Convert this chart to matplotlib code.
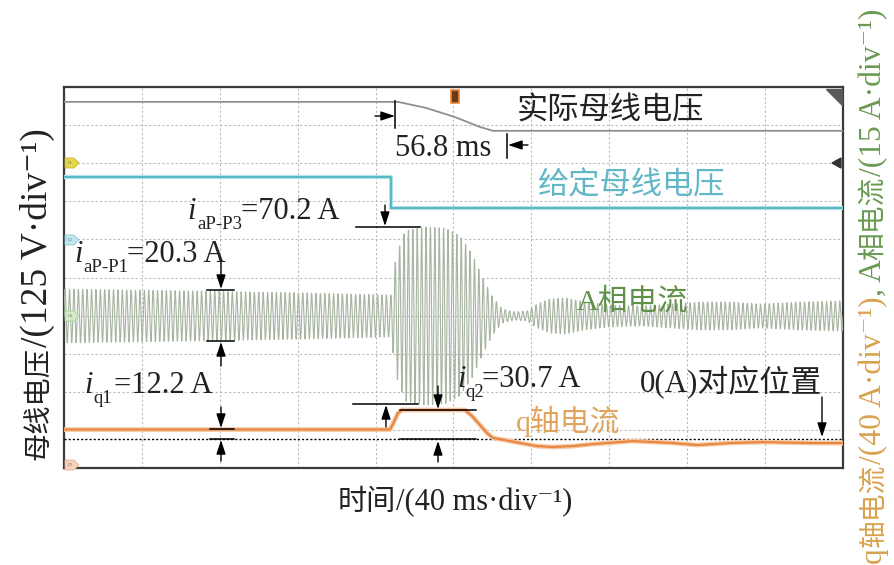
import numpy as np
import matplotlib
matplotlib.use("Agg")
import matplotlib.pyplot as plt
from matplotlib.patches import Polygon, Rectangle

LATIN = ['Liberation Serif', 'DejaVu Serif', 'Noto Sans CJK SC']
CJK = ['Noto Sans CJK SC', 'Liberation Serif', 'DejaVu Serif']
plt.rcParams['font.family'] = LATIN

W, H = 894, 565

# ---------------- data (time in ms, 40 ms/div; vertical in divisions) ----------------
t_span = 400.0                      # 10 div x 40 ms
n_div_y = 10

# actual bus voltage (gray trace), screen divisions
vbus_t = [0, 171.5, 186.0, 200.8, 213.6, 220.3, 400]
vbus_div = [9.61, 9.61, 9.45, 9.21, 8.95, 8.85, 8.85]

# given bus voltage (cyan trace), screen divisions
vref_t = [0, 167.9, 167.9, 400]
vref_div = [7.64, 7.64, 6.82, 6.82]

# A-phase current: envelope amplitude (A), 15 A/div, centred at 4.0 div
ia_scale = 15.0
ia_center_div = 3.99
ia_env_t = [0, 69.8, 121.2, 164.8, 167.9, 170.5, 175.1, 185.4, 195.6, 203.3, 209.5,
            214.6, 219.8, 224.9, 231.6, 237.8, 242.9, 249.6, 257.3, 267.5, 280.4,
            295.8, 311.2, 326.6, 342.0, 357.4, 377.9, 400]
ia_env_A = [10.6, 9.8, 9.1, 8.3, 8.3, 23.6, 33.5, 35.0, 34.6, 31.5, 24.4,
            15.7, 7.9, 2.8, 1.6, 2.0, 4.7, 6.7, 7.1, 5.5, 4.3,
            3.9, 4.7, 5.5, 5.5, 4.7, 5.5, 5.9]
ia_period_ms = 2.26

# q-axis current (A), 40 A/div, zero level at 0.76 div
iq_scale = 40.0
iq_zero_div = 0.76
iq_t = [0, 167.4, 168.9, 171.5, 173.6, 205.9, 209.5, 213.6, 217.2, 220.3, 226.4,
        234.2, 242.9, 251.1, 261.4, 271.6, 292.2, 312.7, 325.0, 342.0, 358.9, 384.6, 400]
iq_A = [10.0, 10.0, 15.8, 27.3, 30.5, 30.5, 24.2, 14.7, 6.3, 1.1, -1.1,
        -4.2, -7.4, -8.4, -7.4, -5.3, -2.1, -4.2, -6.3, -4.2, -3.2, -4.2, -4.2]

# ---------------- figure ----------------
fig = plt.figure(figsize=(W / 100, H / 100), dpi=100)
L, R, T, B = 64, 843, 87, 468
ax = fig.add_axes([L / W, 1 - B / H, (R - L) / W, (B - T) / H])
ax.set_xlim(0, t_span)
ax.set_ylim(0, n_div_y)
ax.set_xticks(np.arange(0, t_span + 1, 40))
ax.set_yticks(np.arange(0, n_div_y + 1, 1))
ax.tick_params(length=0, labelbottom=False, labelleft=False)
ax.grid(True, color='#bcbcbc', linestyle=(0, (2, 2)), lw=0.8)
for s in ax.spines.values():
    s.set_color('#3a3a3a')
    s.set_linewidth(1.6)

# zero-level dotted line
ax.axhline(iq_zero_div, color='k', ls=(0, (1.5, 1.5)), lw=1.0, zorder=3)

# gray actual bus voltage
ax.plot(vbus_t, vbus_div, color='#8f8f8f', lw=1.3, zorder=4)

# cyan given voltage
ax.plot(vref_t, vref_div, color='#b5e1e7', lw=3.0, zorder=4)
ax.plot(vref_t, vref_div, color='#4fb6c4', lw=1.3, zorder=4)

# A phase current
t = np.linspace(0, t_span, 12000)
env = np.interp(t, ia_env_t, ia_env_A)
ia = env * np.sin(2 * np.pi * t / ia_period_ms)
ax.plot(t, ia_center_div + ia / ia_scale, color='#a6b4a0', lw=0.8, zorder=3)

# q axis current
iq_div = iq_zero_div + np.array(iq_A) / iq_scale
ax.plot(iq_t, iq_div, color='#f6c7a3', lw=3.4, zorder=5)
ax.plot(iq_t, iq_div, color='#e9853d', lw=1.5, zorder=5)

# ---------------- overlay in pixel coordinates ----------------
ov = fig.add_axes([0, 0, 1, 1], facecolor='none')
ov.set_xlim(0, W)
ov.set_ylim(H, 0)
ov.axis('off')

def arrow(x0, y0, x1, y1):
    ov.annotate('', xy=(x1, y1), xytext=(x0, y0),
                arrowprops=dict(arrowstyle='-|>,head_length=0.85,head_width=0.28',
                                color='k', lw=1.0, shrinkA=0, shrinkB=0,
                                mutation_scale=10))

def hline(x0, x1, y):
    ov.plot([x0, x1], [y, y], color='k', lw=1.1)

def vline(x, y0, y1):
    ov.plot([x, x], [y0, y1], color='k', lw=1.1)

# 56.8 ms markers
arrow(375, 116, 395, 116)
vline(395, 101, 128)
vline(507, 134, 158)
arrow(528, 145, 508, 145)

# iaP-P3
arrow(385, 205, 385, 226)
hline(356, 420, 227)
# iaP-P1
arrow(221, 262, 221, 289)
hline(207, 234, 290)
arrow(221, 366, 221, 342)
hline(207, 234, 341)
# iq1
arrow(221, 407, 221, 428)
hline(210, 234, 429)
arrow(221, 461, 221, 440)
hline(210, 234, 439)
# iq2
hline(353, 418, 404)
arrow(386, 427, 386, 405)
arrow(438, 386, 438, 409)
hline(400, 476, 410)
arrow(438, 462, 438, 441)
hline(400, 476, 439)
# zero position
arrow(822, 397, 822, 437)

# texts
big = 22
sub = 13.5
ov.text(517, 111, '实际母线电压', fontsize=22.5, color='#222222', ha='left', va='center', family=CJK)
ov.text(395, 156, '56.8 ms', fontsize=big, color='#222222', ha='left', va='baseline')
ov.text(538, 185, '给定母线电压', fontsize=22.5, color='#62b7c6', ha='left', va='center', family=CJK)
ov.text(577, 302, 'A相电流', fontsize=21.5, color='#5f9149', ha='left', va='center')
ov.text(516, 421, 'q轴电流', fontsize=21.5, color='#e0a45c', ha='left', va='center')
ov.text(640, 392, '0(A)对应位置', fontsize=22.3, color='#222222', ha='left', va='baseline')

def ilabel(xi, yb, subtxt, xs, ysb, rest, xr):
    ov.text(xi, yb, 'i', fontsize=big, style='italic', color='#222222', va='baseline')
    ov.text(xs, ysb, subtxt, fontsize=sub, color='#222222', va='baseline')
    ov.text(xr, yb, rest, fontsize=big, color='#222222', va='baseline')

ilabel(187, 219, 'aP-P3', 197, 229, '=70.2 A', 241)
ilabel(74, 262, 'aP-P1', 83, 272, '=20.3 A', 127)
ilabel(84, 393, 'q1', 93, 403, '=12.2 A', 114)
ilabel(457, 387, 'q2', 465, 397, '=30.7 A', 482)

# axis labels built from pieces (CJK and Latin sized separately)
renderer = fig.canvas.get_renderer()

def seq_text(pieces, x, y, rot, align='center'):
    objs, lens = [], []
    for s, size, color, fam in pieces:
        tx = ov.text(0, 0, s, fontsize=size, color=color, family=fam, rotation=rot,
                     rotation_mode='anchor', ha='left', va='baseline')
        bb = tx.get_window_extent(renderer=renderer)
        lens.append(bb.width if rot == 0 else bb.height)
        objs.append(tx)
    total = sum(lens)
    if rot == 0:
        pos = x - total / 2 if align == 'center' else x
        for tx, l in zip(objs, lens):
            tx.set_position((pos, y))
            pos += l
    else:
        pos = y + total / 2 if align == 'center' else y
        for tx, l in zip(objs, lens):
            tx.set_position((x, pos))
            pos -= l
    return total

ink = '#222222'
seq_text([('母线电压', 20.3, ink, CJK), ('/(125 V·div⁻¹)', 27, ink, LATIN)],
         47, 294, 90, 'center')
seq_text([('时间', 21, ink, CJK), ('/(40 ms·div⁻¹)', 22, ink, LATIN)],
         455, 510, 0, 'center')
qc, ac = '#d8a24e', '#6a9a52'
seq_text([('q', 22.5, qc, LATIN), ('轴电流', 20, qc, CJK), ('/(40 A·div⁻¹)', 22.8, qc, LATIN),
          (', A', 22.8, ac, LATIN), ('相电流', 20, ac, CJK), ('/(15 A·div⁻¹)', 22.8, ac, LATIN)],
         881, 563, 90, 'start')

# channel tags on the left edge
def tag(yc, fc, ec, label):
    ov.add_patch(Polygon([(65, yc - 5), (74, yc - 5), (79, yc), (74, yc + 5), (65, yc + 5)],
                         closed=True, fc=fc, ec=ec, lw=0.6, zorder=6))
    ov.text(70, yc, label, fontsize=3, ha='center', va='center', color='#555555', zorder=7)

tag(163, '#e6d84a', '#c8b830', 'C1')
tag(240, '#bfe6ee', '#8ccbd8', 'C2')
tag(316, '#d5ebc8', '#a8cf98', 'C4')
tag(465, '#f6d2bc', '#e8b090', 'C3')

# trigger marker and corner markers
ov.add_patch(Rectangle((451, 90), 8, 13, fc='#6b3a18', ec='#f08a3c', lw=1.2, zorder=6))
ov.add_patch(Polygon([(826, 89), (842, 89), (842, 105)], closed=True, fc='#5a5a5a',
                     ec='#5a5a5a', zorder=6))
ov.add_patch(Polygon([(832, 163), (841, 158), (841, 168)], closed=True, fc='#333333',
                     ec='#333333', zorder=6))

fig.savefig('out.png', dpi=100)
